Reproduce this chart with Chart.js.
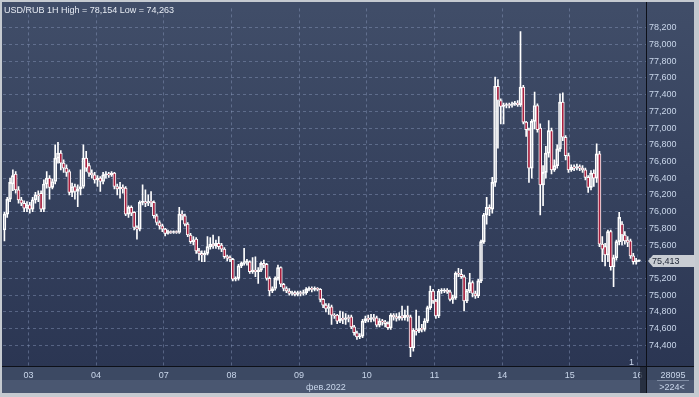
<!DOCTYPE html>
<html>
<head>
<meta charset="utf-8">
<script src="https://cdn.jsdelivr.net/npm/chart.js@4.4.1/dist/chart.umd.min.js"></script>
<style>
    body { margin: 0; background: #c5cad0; }
    #wrap { position: relative; width: 699px; height: 397px; }
</style>
</head>
<body>
<div id="wrap"><canvas id="chart" width="699" height="397"></canvas></div>
<script>
// USD/RUB 1H candles, 02 feb 15:00 .. 16 feb 00:00
const openArr = [
    75.78, 75.97, 76.15, 76.33, 76.45, 76.26, 76.14, 76.10, 76.04,
    76.08, 76.03, 76.14, 76.20, 76.22, 76.03, 76.33, 76.40, 76.29, 76.36, 76.64, 76.70, 76.58, 76.52, 76.48, 76.23, 76.30, 76.24, 76.27, 76.30, 76.64, 76.55, 76.46, 76.44,
    76.38, 76.40, 76.36, 76.44, 76.45, 76.44, 76.46, 76.30, 76.27, 76.29, 76.28, 75.97, 76.05, 75.99, 75.81, 75.79, 76.11, 76.12, 76.10, 76.12, 76.11, 75.95, 75.87, 75.83,
    75.79, 75.74, 75.76, 75.75, 75.76, 75.75, 75.97, 75.95, 75.85, 75.72, 75.64, 75.67, 75.53, 75.50, 75.48, 75.50, 75.58, 75.61, 75.59, 75.62, 75.60, 75.55, 75.46, 75.45,
    75.43, 75.19, 75.20, 75.35, 75.38, 75.40, 75.40, 75.28, 75.30, 75.28, 75.30, 75.38, 75.37, 75.20, 75.05, 75.08, 75.20, 75.33, 75.13, 75.08, 75.05, 75.02, 75.03, 75.01,
    75.03, 75.02, 75.03, 75.07, 75.08, 75.07, 75.08, 75.07, 74.95, 74.88, 74.84, 74.86, 74.76, 74.76, 74.69, 74.72, 74.71, 74.73, 74.74, 74.62, 74.55, 74.50, 74.51, 74.69,
    74.72, 74.71, 74.73, 74.73, 74.64, 74.69, 74.68, 74.66, 74.61, 74.76, 74.74, 74.72, 74.75, 74.73, 74.76, 74.74, 74.37, 74.58, 74.57, 74.60, 74.59, 74.69, 74.85, 75.05,
    74.93, 74.75, 75.05, 75.05, 75.06, 75.04, 74.95, 74.97, 75.26, 75.25, 75.22, 74.93, 75.05, 75.15, 75.02, 74.99, 75.17, 75.64, 75.96, 76.05, 76.03, 76.35, 77.50, 77.33,
    77.26, 77.27, 77.28, 77.27, 77.29, 77.30, 77.28, 77.49, 77.07, 76.98, 76.52, 77.08, 77.27, 77.00, 76.32, 76.47, 76.70, 76.97, 76.50, 76.55, 76.75, 77.31, 76.89, 76.67,
    76.50, 76.53, 76.52, 76.54, 76.52, 76.50, 76.41, 76.29, 76.46, 76.40, 76.69, 75.61, 75.58, 75.48, 75.76, 75.34, 75.45, 75.64, 75.85, 75.72, 75.66, 75.65, 75.47, 75.40,
    75.41
];
const highArr = [
    75.99, 76.17, 76.40, 76.50, 76.48, 76.30, 76.17, 76.13, 76.12,
    76.11, 76.17, 76.23, 76.25, 76.25, 76.38, 76.48, 76.43, 76.39, 76.80, 76.83, 76.73, 76.62, 76.56, 76.50, 76.34, 76.33, 76.32, 76.50, 76.80, 76.72, 76.58, 76.50, 76.47,
    76.43, 76.42, 76.47, 76.48, 76.47, 76.48, 76.47, 76.33, 76.35, 76.32, 76.30, 76.07, 76.07, 76.00, 75.83, 76.13, 76.32, 76.26, 76.20, 76.24, 76.13, 75.97, 75.89, 75.85,
    75.80, 75.78, 75.77, 75.77, 75.77, 76.05, 76.01, 75.97, 75.87, 75.74, 75.70, 75.69, 75.56, 75.53, 75.53, 75.70, 75.69, 75.72, 75.66, 75.70, 75.62, 75.57, 75.48, 75.47,
    75.44, 75.22, 75.37, 75.40, 75.56, 75.43, 75.41, 75.45, 75.46, 75.33, 75.40, 75.42, 75.38, 75.22, 75.10, 75.22, 75.36, 75.34, 75.14, 75.10, 75.08, 75.05, 75.05, 75.05,
    75.05, 75.06, 75.09, 75.10, 75.10, 75.10, 75.09, 75.08, 74.96, 74.90, 74.90, 74.88, 74.78, 74.77, 74.81, 74.80, 74.78, 74.76, 74.76, 74.64, 74.57, 74.54, 74.71, 74.75,
    74.76, 74.77, 74.77, 74.75, 74.72, 74.71, 74.70, 74.68, 74.78, 74.78, 74.78, 74.79, 74.87, 74.82, 74.87, 74.76, 74.60, 74.82, 74.75, 74.65, 74.72, 74.87, 75.11, 75.07,
    74.95, 75.07, 75.08, 75.08, 75.08, 75.06, 75.00, 75.28, 75.32, 75.31, 75.24, 75.07, 75.26, 75.17, 75.05, 75.19, 75.66, 75.98, 76.17, 76.08, 76.41, 77.61, 77.58, 77.35,
    77.30, 77.30, 77.30, 77.31, 77.32, 77.33, 78.154, 77.51, 77.08, 77.00, 77.10, 77.43, 77.29, 77.05, 76.55, 76.78, 77.09, 77.00, 76.62, 76.80, 77.41, 77.42, 76.91, 76.70,
    76.56, 76.56, 76.57, 76.56, 76.55, 76.52, 76.43, 76.49, 76.50, 76.81, 76.72, 75.70, 75.62, 75.78, 75.78, 75.48, 75.66, 75.99, 75.88, 75.76, 75.70, 75.67, 75.50, 75.44,
    75.42
];
const lowArr = [
    75.65, 75.93, 76.12, 76.25, 76.22, 76.10, 76.07, 76.00, 76.00,
    75.98, 76.00, 76.10, 76.12, 76.00, 76.00, 76.28, 76.15, 76.27, 76.33, 76.58, 76.50, 76.47, 76.42, 76.20, 76.18, 76.15, 76.06, 76.20, 76.28, 76.48, 76.42, 76.40, 76.34,
    76.30, 76.24, 76.33, 76.40, 76.41, 76.42, 76.27, 76.20, 76.16, 76.22, 75.95, 75.93, 75.95, 75.78, 75.67, 75.77, 76.08, 76.06, 76.07, 76.06, 75.92, 75.84, 75.79, 75.76,
    75.71, 75.73, 75.74, 75.74, 75.74, 75.74, 75.90, 75.83, 75.70, 75.62, 75.60, 75.50, 75.42, 75.40, 75.40, 75.48, 75.55, 75.56, 75.56, 75.55, 75.52, 75.44, 75.41, 75.40,
    75.17, 75.17, 75.18, 75.33, 75.36, 75.36, 75.26, 75.26, 75.22, 75.14, 75.28, 75.33, 75.18, 74.99, 75.03, 75.06, 75.18, 75.10, 75.05, 75.03, 75.00, 75.00, 74.99, 74.99,
    74.99, 75.00, 75.01, 75.05, 75.04, 75.05, 75.05, 74.92, 74.85, 74.80, 74.77, 74.65, 74.72, 74.66, 74.67, 74.66, 74.65, 74.68, 74.60, 74.52, 74.47, 74.48, 74.49, 74.67,
    74.68, 74.68, 74.69, 74.62, 74.62, 74.64, 74.62, 74.59, 74.59, 74.70, 74.69, 74.70, 74.70, 74.70, 74.69, 74.263, 74.33, 74.52, 74.55, 74.56, 74.57, 74.67, 74.83, 74.90,
    74.72, 74.73, 75.02, 75.03, 75.02, 74.93, 74.90, 74.95, 75.22, 75.20, 74.81, 74.91, 75.03, 74.98, 74.96, 74.97, 75.15, 75.62, 75.85, 75.95, 75.98, 76.30, 76.76, 77.05,
    77.05, 77.24, 77.24, 77.25, 77.27, 77.26, 77.26, 77.05, 76.90, 76.35, 76.40, 76.99, 76.95, 75.96, 76.07, 76.40, 76.65, 76.45, 76.48, 76.52, 76.72, 76.85, 76.62, 76.47,
    76.48, 76.49, 76.50, 76.49, 76.47, 76.38, 76.23, 76.26, 76.30, 76.35, 75.58, 75.40, 75.35, 75.40, 75.30, 75.10, 75.42, 75.60, 75.60, 75.61, 75.58, 75.44, 75.37, 75.37,
    75.40
];
const closeArr = [
    75.97, 76.15, 76.35, 76.43, 76.26, 76.14, 76.10, 76.04, 76.08,
    76.03, 76.14, 76.20, 76.19, 76.03, 76.33, 76.40, 76.29, 76.36, 76.64, 76.70, 76.58, 76.52, 76.47, 76.23, 76.30, 76.24, 76.27, 76.30, 76.64, 76.52, 76.46, 76.44, 76.38,
    76.40, 76.36, 76.44, 76.45, 76.44, 76.46, 76.30, 76.27, 76.29, 76.27, 75.97, 76.05, 75.98, 75.81, 75.79, 76.11, 76.12, 76.10, 76.12, 76.11, 75.95, 75.87, 75.83, 75.79,
    75.74, 75.76, 75.75, 75.76, 75.75, 75.97, 75.95, 75.85, 75.72, 75.64, 75.66, 75.53, 75.50, 75.48, 75.50, 75.58, 75.61, 75.59, 75.62, 75.58, 75.55, 75.46, 75.45, 75.43,
    75.19, 75.20, 75.35, 75.38, 75.40, 75.40, 75.28, 75.30, 75.28, 75.30, 75.38, 75.36, 75.20, 75.05, 75.08, 75.20, 75.33, 75.13, 75.08, 75.05, 75.02, 75.03, 75.01, 75.03,
    75.02, 75.03, 75.07, 75.08, 75.07, 75.08, 75.07, 74.95, 74.88, 74.84, 74.86, 74.76, 74.75, 74.69, 74.72, 74.71, 74.73, 74.72, 74.62, 74.55, 74.50, 74.51, 74.69, 74.72,
    74.71, 74.73, 74.72, 74.64, 74.69, 74.68, 74.66, 74.61, 74.76, 74.74, 74.72, 74.75, 74.73, 74.76, 74.74, 74.37, 74.58, 74.57, 74.60, 74.59, 74.69, 74.85, 75.05, 74.93,
    74.75, 75.05, 75.05, 75.06, 75.04, 74.95, 74.97, 75.26, 75.25, 75.22, 74.93, 75.05, 75.15, 75.02, 74.99, 75.17, 75.64, 75.96, 76.05, 76.03, 76.35, 77.50, 77.33, 77.26,
    77.27, 77.28, 77.27, 77.29, 77.30, 77.28, 77.49, 77.07, 76.98, 76.52, 77.08, 77.27, 76.98, 76.32, 76.47, 76.70, 76.97, 76.50, 76.55, 76.75, 77.31, 76.89, 76.67, 76.50,
    76.53, 76.52, 76.54, 76.52, 76.50, 76.41, 76.29, 76.46, 76.40, 76.69, 75.61, 75.55, 75.48, 75.76, 75.34, 75.45, 75.64, 75.93, 75.72, 75.65, 75.63, 75.47, 75.40, 75.41,
    75.413
];

// day separators (index of first candle of the day) and their labels
const dayStarts = [9, 33, 57, 81, 105, 129, 153, 177, 201, 225];
const dayLabels = ['03', '04', '07', '08', '09', '10', '11', '14', '15', '16'];
const priceTicks = [74.4, 74.6, 74.8, 75.0, 75.2, 75.4, 75.6, 75.8, 76.0, 76.2, 76.4, 76.6, 76.8, 77.0, 77.2, 77.4, 77.6, 77.8, 78.0, 78.2];

const titleText = 'USD/RUB 1H High = 78,154 Low = 74,263';
const monthText = 'фев.2022';
const barsTotal = '28095';
const barsVisible = '>224<';

const FONT = '"Liberation Sans", Arial, sans-serif';
const fmt = (v) => v.toFixed(3).replace('.', ',');

const bodies = openArr.map((o, i) => ({ x: i, y: [o, closeArr[i]] }));
const upperWicks = openArr.map((o, i) => ({ x: i, y: [Math.max(o, closeArr[i]), highArr[i]] }));
const lowerWicks = openArr.map((o, i) => ({ x: i, y: [lowArr[i], Math.min(o, closeArr[i])] }));

// background panels, frame lines and extra labels
const terminalLook = {
    id: 'terminalLook',
    beforeDraw(chart) {
        const ctx = chart.ctx;
        const area = chart.chartArea;
        ctx.save();
        ctx.fillStyle = '#c5cad0';
        ctx.fillRect(0, 0, 699, 397);
        const g = ctx.createLinearGradient(0, area.top, 0, area.bottom);
        g.addColorStop(0, '#404d68');
        g.addColorStop(1, '#2b3653');
        ctx.fillStyle = g;
        ctx.fillRect(2, 2, 692, area.bottom - 2);
        ctx.fillStyle = '#3c4963';
        ctx.fillRect(2, area.bottom, 692, 14);
        ctx.fillStyle = '#4a5771';
        ctx.fillRect(2, area.bottom + 14, 692, 13);
        ctx.restore();
    },
    afterDraw(chart) {
        const ctx = chart.ctx;
        const area = chart.chartArea;
        const y = chart.scales.y;
        ctx.save();

        // scroll marker over the last day label
        ctx.fillStyle = 'rgba(28,35,50,0.75)';
        ctx.fillRect(area.right - 6, area.bottom + 1, 6, 26);

        // axis lines
        ctx.strokeStyle = '#0d1018';
        ctx.lineWidth = 1;
        ctx.beginPath();
        ctx.moveTo(2, area.bottom + 0.5);
        ctx.lineTo(694, area.bottom + 0.5);
        ctx.moveTo(area.right + 0.5, 2);
        ctx.lineTo(area.right + 0.5, 393);
        ctx.stroke();

        // title
        ctx.font = '9px ' + FONT;
        ctx.textBaseline = 'alphabetic';
        ctx.textAlign = 'left';
        ctx.fillStyle = '#e6ebf3';
        ctx.fillText(titleText, 4, 13);

        ctx.fillStyle = '#c9d6ea';
        ctx.fillText(monthText, 306, 390);
        ctx.fillText('1', 629, 365);

        ctx.textAlign = 'center';
        ctx.fillText(barsTotal, 673, 378);
        ctx.fillText(barsVisible, 672, 390);
        ctx.strokeStyle = '#7f8ca3';
        ctx.beginPath();
        ctx.moveTo(657, 380.5);
        ctx.lineTo(689, 380.5);
        ctx.stroke();

        // last price tag
        const last = closeArr[closeArr.length - 1];
        const py = Math.round(y.getPixelForValue(last));
        ctx.fillStyle = '#c9cdd3';
        ctx.beginPath();
        ctx.moveTo(area.right + 2, py);
        ctx.lineTo(area.right + 7, py - 6);
        ctx.lineTo(695, py - 6);
        ctx.lineTo(695, py + 6);
        ctx.lineTo(area.right + 7, py + 6);
        ctx.closePath();
        ctx.fill();
        ctx.fillStyle = '#1d2535';
        ctx.textAlign = 'left';
        ctx.textBaseline = 'middle';
        ctx.fillText(fmt(last), area.right + 6, py + 0.5);
        ctx.restore();
    }
};

new Chart(document.getElementById('chart'), {
    type: 'bar',
    data: {
        datasets: [
            {
                data: bodies,
                backgroundColor: (c) => (c.raw && c.raw.y[1] < c.raw.y[0]) ? '#a8203f' : 'rgba(0,0,0,0)',
                borderColor: '#ffffff',
                borderWidth: 1,
                borderSkipped: false,
                barThickness: 3,
                minBarLength: 1,
                grouped: false,
                order: 1
            },
            {
                data: upperWicks,
                backgroundColor: '#ffffff',
                borderWidth: 0,
                barThickness: 1,
                grouped: false,
                order: 2
            },
            {
                data: lowerWicks,
                backgroundColor: '#ffffff',
                borderWidth: 0,
                barThickness: 1,
                grouped: false,
                order: 2
            }
        ]
    },
    options: {
        responsive: false,
        animation: false,
        layout: { padding: { left: 3, top: 3, right: 5, bottom: 4 } },
        plugins: {
            legend: { display: false },
            tooltip: { enabled: false }
        },
        scales: {
            x: {
                type: 'linear',
                offset: false,
                min: -0.5,
                max: 227.5,
                afterBuildTicks: (s) => { s.ticks = dayStarts.map(d => ({ value: d - 0.5 })); },
                afterFit: (s) => { s.height = 27; },
                grid: { offset: false, color: 'rgba(140,156,190,0.45)', drawTicks: false },
                border: { display: false, dash: [3, 3] },
                ticks: {
                    autoSkip: false,
                    maxRotation: 0,
                    padding: 4,
                    color: '#c9d6ea',
                    font: { family: FONT, size: 9 },
                    callback: (v, i) => dayLabels[i]
                }
            },
            y: {
                position: 'right',
                min: 74.152,
                max: 78.432,
                afterBuildTicks: (s) => { s.ticks = priceTicks.map(v => ({ value: v })); },
                afterFit: (s) => { s.width = 48; },
                grid: { color: 'rgba(140,156,190,0.45)', drawTicks: false },
                border: { display: false, dash: [3, 3] },
                ticks: {
                    padding: 3,
                    color: '#c9d6ea',
                    font: { family: FONT, size: 9 },
                    callback: (v) => fmt(v)
                }
            }
        }
    },
    plugins: [terminalLook]
});
</script>
</body>
</html>
